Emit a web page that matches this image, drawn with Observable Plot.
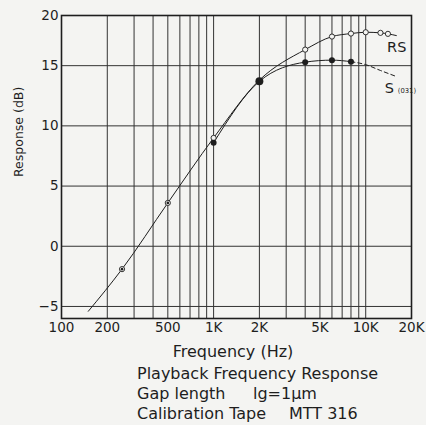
<!DOCTYPE html>
<html><head><meta charset="utf-8">
<script src="https://cdn.jsdelivr.net/npm/d3@7"></script>
<script src="https://cdn.jsdelivr.net/npm/@observablehq/plot@0.6"></script>
<style>
body{margin:0;background:#f4f4f2;font-family:"DejaVu Sans",sans-serif;color:#1e1e1e}
#chart{width:426px;height:340px}
#cap{position:relative;width:426px;height:85px;font-size:16px}
#cap div{position:absolute;white-space:nowrap;line-height:18px}
</style></head><body>
<div id="chart"></div>
<div id="cap">
  <div style="left:0;width:466px;text-align:center;top:3px">Frequency (Hz)</div>
  <div style="left:137px;top:25px">Playback Frequency Response</div>
  <div style="left:137px;top:45px">Gap length</div>
  <div style="left:253px;top:45px">lg=1μm</div>
  <div style="left:137px;top:65px">Calibration Tape</div>
  <div style="left:289px;top:65px">MTT 316</div>
</div>
<script>
const freqTicks = [100, 200, 500, 1000, 2000, 5000, 10000, 20000];
const freqTickLabels = ["100", "200", "500", "1K", "2K", "5K", "10K", "20K"];
const dbTicks = [-5, 0, 5, 10, 15, 20];
const gridFreqs = [200, 300, 400, 500, 600, 700, 800, 900, 1000, 2000, 3000, 4000, 5000, 6000, 7000, 8000, 9000, 10000];
const gridDb = [-5, 0, 5, 10, 15];

// RS curve (open circles)
const rsFreq = [150, 250, 500, 1000, 2000, 4000, 6000, 8000, 10000, 12500, 14000, 15900];
const rsDb   = [-5.4, -1.9, 3.6, 9.0, 13.8, 16.6, 17.9, 18.2, 18.33, 18.27, 18.17, 18.0];
const rsMark = [false, true, true, true, false, true, true, true, true, true, true, false];

// S(031) curve (filled dots)
const sFreq = [1000, 2000, 4000, 6000, 8000, 10000, 12500, 15900];
const sDb   = [8.6, 13.7, 15.35, 15.55, 15.4, 15.1, 14.6, 14.1];
const sMark = [true, true, true, true, true, false, false, false];
const sDashFrom = 8000;

// shared low-frequency measurement points
const commonFreq = [250, 500];
const commonDb = [-1.9, 3.6];

const curveLabels = [
  {text: "RS", f: 16000, db: 16.8, size: 14.5, anchor: "middle"},
  {text: "S", f: 14300, db: 13.1, size: 14.5, anchor: "middle"},
  {text: "(031)", f: 16000, db: 12.95, size: 6.8, anchor: "start"}
];

const rs = rsFreq.map((f, i) => ({f, db: rsDb[i], m: rsMark[i]}));
const s = sFreq.map((f, i) => ({f, db: sDb[i], m: sMark[i]}));
const common = commonFreq.map((f, i) => ({f, db: commonDb[i]}));

// the printed chart compresses its top band (15..20 dB) slightly
const compressTop = d => d <= 15 ? d : 15 + (d - 15) * 10 / 12;

const ink = "#1e1e1e";
const chart = Plot.plot({
  width: 426, height: 340,
  marginLeft: 61, marginRight: 15, marginTop: 15, marginBottom: 22,
  style: {background: "#f4f4f2", fontFamily: "DejaVu Sans, sans-serif", fontSize: "13.5px", color: ink},
  x: {type: "log", domain: [100, 20000], axis: null},
  y: {transform: compressTop, domain: [-6, compressTop(20)]},
  marks: [
    Plot.ruleX(gridFreqs, {stroke: "#333", strokeWidth: 1}),
    Plot.ruleY(gridDb, {stroke: "#333", strokeWidth: 1}),
    Plot.frame({stroke: ink, strokeWidth: 1.6}),
    Plot.text(freqTicks, {x: d => d, text: d => freqTickLabels[freqTicks.indexOf(d)], frameAnchor: "bottom", lineAnchor: "top", dy: 4, fontSize: 13.5, fill: ink}),
    Plot.axisY(dbTicks, {tickFormat: d => d < 0 ? "\u2212" + Math.abs(d) : String(d), tickSize: 0, tickPadding: 3, label: null, fontSize: 13.5}),
    Plot.text(["Response (dB)"], {frameAnchor: "left", rotate: -90, dx: -43, dy: 10, fontSize: 12.5, fill: ink}),
    Plot.line(rs, {x: "f", y: "db", curve: "monotone-x", stroke: ink, strokeWidth: 1}),
    Plot.line(s.filter(d => d.f <= sDashFrom), {x: "f", y: "db", curve: "monotone-x", stroke: ink, strokeWidth: 1}),
    Plot.line(s.filter(d => d.f >= sDashFrom), {x: "f", y: "db", curve: "monotone-x", stroke: ink, strokeWidth: 1, strokeDasharray: "4,3"}),
    Plot.dot(rs.filter(d => d.m), {x: "f", y: "db", r: 2.6, stroke: ink, strokeWidth: 0.9, fill: "#f4f4f2"}),
    Plot.dot(s.filter(d => d.m), {x: "f", y: "db", r: d => d.f === 2000 ? 2.8 : 1.6, fill: ink, stroke: "none"}),
    Plot.dot(common, {x: "f", y: "db", r: 1.3, fill: ink}),
    Plot.text(curveLabels.filter(d => d.anchor === "middle"), {x: "f", y: "db", text: "text", fontSize: "size", fill: ink, textAnchor: "middle"}),
    Plot.text(curveLabels.filter(d => d.anchor === "start"), {x: "f", y: "db", text: "text", fontSize: "size", fill: ink, textAnchor: "start", dx: 1})
  ]
});
document.getElementById("chart").appendChild(chart);
</script>
</body></html>
